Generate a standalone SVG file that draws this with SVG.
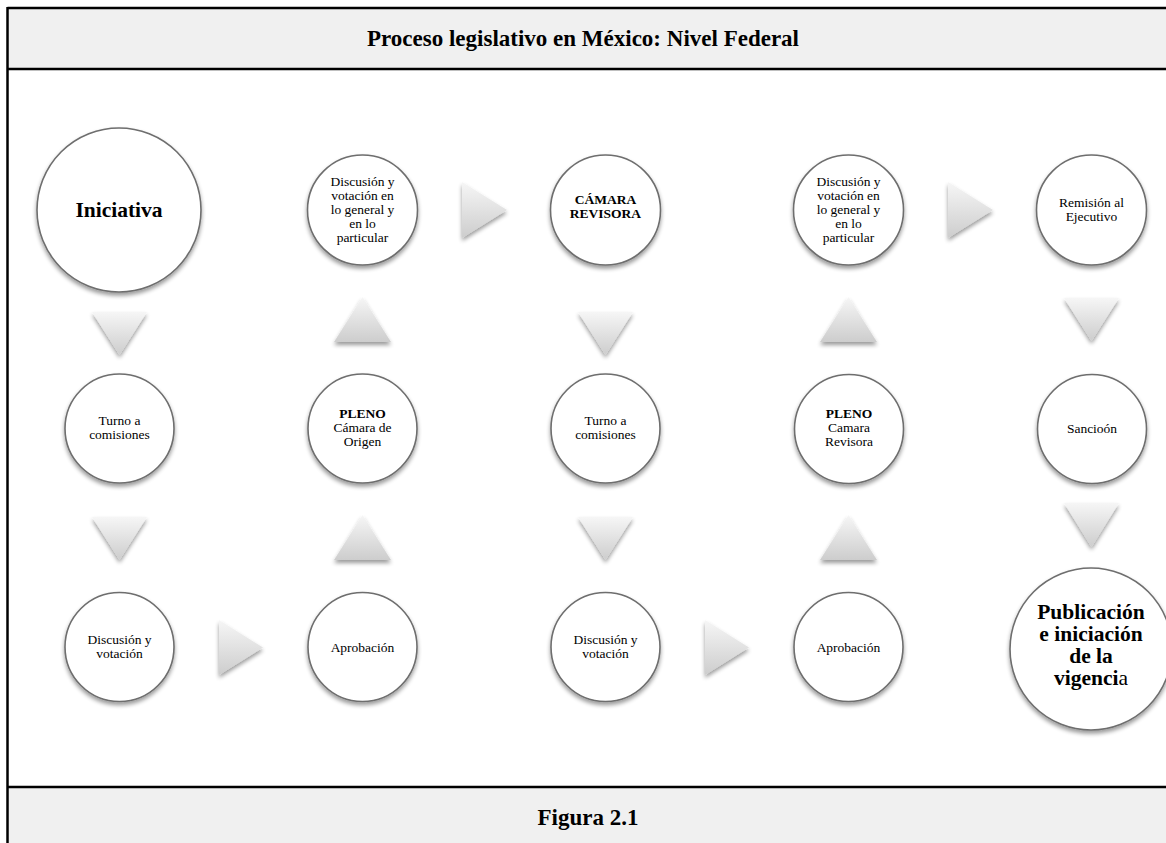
<svg xmlns="http://www.w3.org/2000/svg" width="1166" height="843" viewBox="0 0 1166 843">
  <defs>
    <style>
      .band { fill: #f0f0f0; }
      .rule { stroke: #000; stroke-width: 2.5; fill: none; }
      .head { font-family: "Liberation Serif", "Times New Roman", serif; font-weight: bold; font-size: 23px; fill: #000; text-anchor: middle; }
      .node circle { fill: #fff; stroke: #6e6e6e; stroke-width: 1.6; filter: url(#shadow); }
      .lbl { font-family: "Liberation Serif", "Times New Roman", serif; font-size: 13.5px; fill: #000; text-anchor: middle; }
      .big { font-family: "Liberation Serif", "Times New Roman", serif; font-size: 21.5px; font-weight: bold; fill: #000; text-anchor: middle; }
      .b { font-weight: bold; }
      .n { font-weight: normal; }
      .arrow { fill: url(#arrowFill); filter: url(#shadow); }
    </style>
    <linearGradient id="arrowFill" x1="0" y1="0" x2="0" y2="1">
      <stop offset="0" stop-color="#f6f6f6"/>
      <stop offset="1" stop-color="#cdcdcd"/>
    </linearGradient>
    <filter id="shadow" x="-20%" y="-20%" width="140%" height="150%">
      <feGaussianBlur in="SourceAlpha" stdDeviation="2"/>
      <feOffset dx="0" dy="3" result="off"/>
      <feComponentTransfer><feFuncA type="linear" slope="0.4"/></feComponentTransfer>
      <feMerge><feMergeNode/><feMergeNode in="SourceGraphic"/></feMerge>
    </filter>
  </defs>

  <!-- frame: title band, body, caption band -->
  <rect class="band" x="8" y="9" width="1160" height="59"/>
  <rect class="band" x="8" y="788" width="1160" height="56"/>
  <line class="rule" x1="7.5" y1="8" x2="1166" y2="8"/>
  <line class="rule" x1="7.5" y1="69" x2="1166" y2="69"/>
  <line class="rule" x1="7.5" y1="787" x2="1166" y2="787"/>
  <line class="rule" x1="7.5" y1="7" x2="7.5" y2="843"/>
  <text class="head" x="583" y="46">Proceso legislativo en México: Nivel Federal</text>
  <text class="head" x="588" y="825">Figura 2.1</text>

  <!-- connectors -->
  <g id="connectors">
    <!-- column 1 -->
    <polygon class="arrow" points="92,312 147,312 119.5,355"/>
    <polygon class="arrow" points="92,517 147,517 119.5,560"/>
    <!-- row 3: col1 -> col2 -->
    <polygon class="arrow" points="219,620 219,675 263,647.5"/>
    <!-- column 2 (upward) -->
    <polygon class="arrow" points="334,560 391,560 362.5,515"/>
    <polygon class="arrow" points="334,342 391,342 362.5,297"/>
    <!-- row 1: col2 -> col3 -->
    <polygon class="arrow" points="462,182 462,238 507,210"/>
    <!-- column 3 -->
    <polygon class="arrow" points="578,312 633,312 605.5,355"/>
    <polygon class="arrow" points="578,517 633,517 605.5,560"/>
    <!-- row 3: col3 -> col4 -->
    <polygon class="arrow" points="705,620 705,675 749,647.5"/>
    <!-- column 4 (upward) -->
    <polygon class="arrow" points="820,560 877,560 848.5,515"/>
    <polygon class="arrow" points="820,342 877,342 848.5,297"/>
    <!-- row 1: col4 -> col5 -->
    <polygon class="arrow" points="948,182 948,238 993,210"/>
    <!-- column 5 -->
    <polygon class="arrow" points="1064,298 1119,298 1091.5,341"/>
    <polygon class="arrow" points="1064,503 1119,503 1091.5,547"/>
  </g>

  <!-- column 1 -->
  <g id="iniciativa" class="node">
    <circle cx="119" cy="210" r="82"/>
    <text class="big" x="119" y="217">Iniciativa</text>
  </g>
  <g id="turno1" class="node">
    <circle cx="119.5" cy="428.5" r="54.5"/>
    <text class="lbl" x="119.5" y="425">Turno a</text>
    <text class="lbl" x="119.5" y="439">comisiones</text>
  </g>
  <g id="discusion1" class="node">
    <circle cx="119.5" cy="647" r="54.5"/>
    <text class="lbl" x="119.5" y="644">Discusión y</text>
    <text class="lbl" x="119.5" y="658">votación</text>
  </g>

  <!-- column 2 -->
  <g id="aprobacion1" class="node">
    <circle cx="362.5" cy="647" r="54.5"/>
    <text class="lbl" x="362.5" y="651.5">Aprobación</text>
  </g>
  <g id="pleno-origen" class="node">
    <circle cx="362.5" cy="428.5" r="54.5"/>
    <text class="lbl b" x="362.5" y="418">PLENO</text>
    <text class="lbl" x="362.5" y="432">Cámara de</text>
    <text class="lbl" x="362.5" y="446">Origen</text>
  </g>
  <g id="general1" class="node">
    <circle cx="362.5" cy="210" r="55"/>
    <text class="lbl" x="362.5" y="186">Discusión y</text>
    <text class="lbl" x="362.5" y="200">votación en</text>
    <text class="lbl" x="362.5" y="214">lo general y</text>
    <text class="lbl" x="362.5" y="228">en lo</text>
    <text class="lbl" x="362.5" y="242">particular</text>
  </g>

  <!-- column 3 -->
  <g id="camara-revisora" class="node">
    <circle cx="605.5" cy="210" r="55"/>
    <text class="lbl b" x="605.5" y="204">CÁMARA</text>
    <text class="lbl b" x="605.5" y="218">REVISORA</text>
  </g>
  <g id="turno2" class="node">
    <circle cx="605.5" cy="428.5" r="54.5"/>
    <text class="lbl" x="605.5" y="425">Turno a</text>
    <text class="lbl" x="605.5" y="439">comisiones</text>
  </g>
  <g id="discusion2" class="node">
    <circle cx="605.5" cy="647" r="54.5"/>
    <text class="lbl" x="605.5" y="644">Discusión y</text>
    <text class="lbl" x="605.5" y="658">votación</text>
  </g>

  <!-- column 4 -->
  <g id="aprobacion2" class="node">
    <circle cx="848.5" cy="647" r="54.5"/>
    <text class="lbl" x="848.5" y="651.5">Aprobación</text>
  </g>
  <g id="pleno-revisora" class="node">
    <circle cx="849" cy="429" r="54.5"/>
    <text class="lbl b" x="849" y="418">PLENO</text>
    <text class="lbl" x="849" y="432">Camara</text>
    <text class="lbl" x="849" y="446">Revisora</text>
  </g>
  <g id="general2" class="node">
    <circle cx="848.5" cy="210" r="55"/>
    <text class="lbl" x="848.5" y="186">Discusión y</text>
    <text class="lbl" x="848.5" y="200">votación en</text>
    <text class="lbl" x="848.5" y="214">lo general y</text>
    <text class="lbl" x="848.5" y="228">en lo</text>
    <text class="lbl" x="848.5" y="242">particular</text>
  </g>

  <!-- column 5 -->
  <g id="remision" class="node">
    <circle cx="1091.5" cy="210" r="55"/>
    <text class="lbl" x="1091.5" y="207">Remisión al</text>
    <text class="lbl" x="1091.5" y="221">Ejecutivo</text>
  </g>
  <g id="sancion" class="node">
    <circle cx="1092" cy="429" r="54.5"/>
    <text class="lbl" x="1092" y="433">Sancioón</text>
  </g>
  <g id="publicacion" class="node">
    <circle cx="1091" cy="649" r="81"/>
    <text class="big" x="1091" y="619">Publicación</text>
    <text class="big" x="1091" y="641">e iniciación</text>
    <text class="big" x="1091" y="663">de la</text>
    <text class="big" x="1091" y="685">vigenci<tspan class="n">a</tspan></text>
  </g>
</svg>
